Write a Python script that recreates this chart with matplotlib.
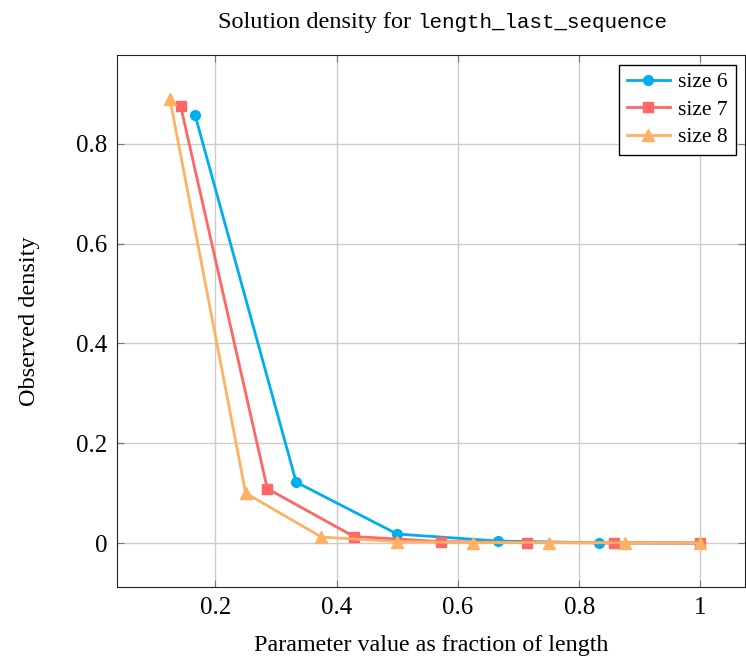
import numpy as np
import matplotlib.pyplot as plt
from matplotlib.ticker import FuncFormatter

plt.rcParams['font.family'] = ['Liberation Serif', 'DejaVu Serif']

# observed density per parameter value (fraction of length)
x6 = [1/6, 2/6, 3/6, 4/6, 5/6, 6/6]
y6 = [0.857, 0.122, 0.018, 0.004, 0.0005, 0.0]
x7 = [1/7, 2/7, 3/7, 4/7, 5/7, 6/7, 7/7]
y7 = [0.875, 0.109, 0.013, 0.003, 0.001, 0.0003, 0.0]
x8 = [1/8, 2/8, 3/8, 4/8, 5/8, 6/8, 7/8, 8/8]
y8 = [0.890, 0.100, 0.012, 0.003, 0.001, 0.001, 0.0005, 0.0]

xticks = [0.2, 0.4, 0.6, 0.8, 1.0]
yticks = [0, 0.2, 0.4, 0.6, 0.8]

fig = plt.figure(figsize=(7.46, 6.61), dpi=100)
ax = fig.add_axes([0.157, 0.112, 0.842, 0.805])

ax.plot(x6, y6, '-o', color='#00AEEF', lw=2, ms=7, label='size 6')
ax.plot(x7, y7, '-s', color='#FF6666', lw=2, ms=7, label='size 7')
ax.plot(x8, y8, '-^', color='#FFB062', lw=2, ms=8, label='size 8')

ax.set_xlim(0.038, 1.074)
ax.set_ylim(-0.088, 0.978)
ax.set_xticks(xticks)
ax.set_yticks(yticks)
fmt = FuncFormatter(lambda v, p: '0' if v == 0 else ('1' if v == 1 else f'{v:.1f}'))
ax.xaxis.set_major_formatter(fmt)
ax.yaxis.set_major_formatter(fmt)
ax.tick_params(direction='in', top=True, right=True, labelsize=18,
               length=5, color='#777777', pad=7)
ax.grid(True, color='#cccccc', lw=1)
ax.set_axisbelow(True)
for s in ax.spines.values():
    s.set_color('#222222')

# title: serif part + typewriter part
fig.text(0.551, 0.958, 'Solution density for', ha='right', va='baseline',
         fontsize=17.5)
fig.text(0.560, 0.958, 'length_last_sequence', ha='left', va='baseline',
         fontsize=15, family='Liberation Mono')

ax.set_xlabel('Parameter value as fraction of length', fontsize=17.3, labelpad=12)
ax.set_ylabel('Observed density', fontsize=17.5, labelpad=26)

leg = ax.legend(loc='upper right', fontsize=15.5, fancybox=False,
                edgecolor='black', framealpha=1, borderaxespad=0.45,
                handlelength=2.0, labelspacing=0.35, handletextpad=0.4,
                borderpad=0.35)
leg.get_frame().set_linewidth(1)

fig.savefig('out.png', dpi=100)
